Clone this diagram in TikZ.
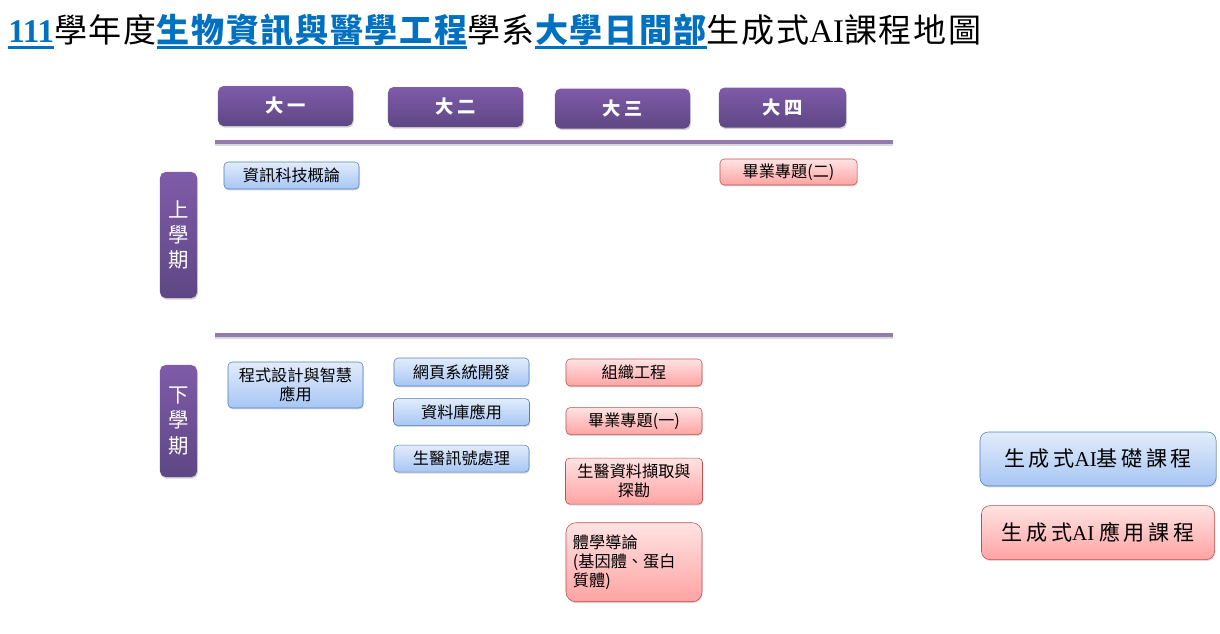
\documentclass[tikz,border=0pt]{standalone}
\usepackage{fontspec}
\setmainfont{Noto Sans CJK TC}
\newfontfamily\latinserif{Liberation Serif}
\usepackage{tikz}
\usetikzlibrary{positioning, shadows}
\definecolor{violet}{HTML}{8064A2}
\definecolor{violethaut}{HTML}{7F5BA9}
\definecolor{violetbas}{HTML}{5E4784}
\definecolor{bleutitre}{HTML}{0070C0}
\definecolor{bleubord}{HTML}{4F81BD}
\definecolor{bleuhaut}{HTML}{E2ECFB}
\definecolor{bleubas}{HTML}{A7C6F4}
\definecolor{rougebord}{HTML}{C0504D}
\definecolor{rougehaut}{HTML}{FFE3E3}
\definecolor{rougebas}{HTML}{FFA3A3}
\newcommand\soulbleu[1]{{\color{bleutitre}\bfseries\setbox0=\hbox{#1}\leavevmode\rlap{\copy0}\rule[-5pt]{\wd0}{2pt}}}
\tikzset{
  annee/.style={rectangle, rounded corners=4pt, draw=none, top color=violethaut,
    bottom color=violetbas, text=white, font=\fontsize{13pt}{15pt}\selectfont\bfseries,
    minimum height=1cm, minimum width=3.375cm, inner sep=1mm,
    drop shadow={shadow xshift=0.6pt, shadow yshift=-1.2pt, opacity=0.35}},
  semestre/.style={rectangle, rounded corners=4pt, draw=none, top color=violethaut,
    bottom color=violetbas, text=white, font=\fontsize{14.5pt}{18pt}\selectfont,
    align=center, minimum width=0.925cm, inner sep=0.5mm,
    drop shadow={shadow xshift=0.6pt, shadow yshift=-1.2pt, opacity=0.35}},
  base/.style={rectangle, rounded corners=3pt, draw=bleubord, top color=bleuhaut,
    bottom color=bleubas, font=\fontsize{11.5pt}{13.5pt}\selectfont, align=center,
    minimum height=0.675cm, minimum width=3.375cm, inner sep=0.8mm,
    drop shadow={shadow xshift=0.5pt, shadow yshift=-1pt, opacity=0.3}},
  applique/.style={base, draw=rougebord, top color=rougehaut, bottom color=rougebas},
  legende/.style={rounded corners=6pt, minimum height=1.35cm,
    font=\fontsize{15pt}{17pt}\selectfont},
  separation/.style={line width=2.2pt, color=violet!85,
    preaction={draw=black!15, line width=2.2pt, transform canvas={yshift=-1.5pt}}}
}
\begin{document}
\begin{tikzpicture}[x=0.025cm, y=-0.025cm]
    \useasboundingbox (0,0) rectangle (1220,633);

    % Titre
    \node[anchor=base west, inner sep=0, font=\fontsize{23.5pt}{26pt}\selectfont\addfontfeature{LetterSpace=5}] (titre) at (8,42)
      {\soulbleu{\latinserif 111}學年度\soulbleu{生物資訊與醫學工程}學系\soulbleu{大學日間部}生成式{\latinserif AI}課程地圖};

    % Annees
    \node[annee] (a1) at (285.5,106) {大\,一};
    \node[annee] (a2) at (455.5,107) {大\,二};
    \node[annee] (a3) at (622.5,108.5) {大\,三};
    \node[annee, minimum width=3.175cm] (a4) at (782.5,107.5) {大\,四};

    % Separations
    \draw[separation] (215,142) -- (893,142);
    \draw[separation] (215,335) -- (893,335);

    % Semestres
    \node[semestre, minimum height=3.15cm] (s1) at (178.5,235) {上\\學\\期};
    \node[semestre, minimum height=2.8cm] (s2) at (178.5,421) {下\\學\\期};

    % Premiere annee
    \node[base] (info) at (291.5,175.5) {資訊科技概論};
    \node[base, minimum height=1.15cm] (prog) at (295.5,385) {程式設計與智慧\\應用};

    % Deuxieme annee
    \node[base, minimum height=0.7cm] (web) at (461.5,372) {網頁系統開發};
    \node[base, minimum width=3.4cm, below=3mm of web] (bdd) {資料庫應用};
    \node[base, below=4.75mm of bdd] (signal) {生醫訊號處理};

    % Troisieme annee
    \node[applique, minimum width=3.4cm] (tissu) at (634,372.5) {組織工程};
    \node[applique, minimum width=3.4cm, below=5.25mm of tissu] (proj1) {畢業專題(一)};
    \node[applique, minimum width=3.425cm, minimum height=1.15cm, below=5.75mm of proj1]
      (fouille) {生醫資料擷取與\\探勘};
    \node[applique, minimum width=3.4cm, minimum height=1.975cm, rounded corners=7pt,
      align=left, text width=3.05cm, below=4.5mm of fouille] (omique)
      {體學導論\\(基因體、蛋白\\質體)};

    % Quatrieme annee
    \node[applique, minimum width=3.425cm, minimum height=0.65cm] (proj2) at (788.5,172) {畢業專題(二)};

    % Legende
    \node[base, legende, minimum width=5.9cm] (lgbase) at (1098,459)
      {生\,成\,式{\latinserif AI}基\,礎\,課\,程};
    \node[applique, legende, minimum width=5.825cm, below=4.75mm of lgbase] (lgappl)
      {生\,成\,式{\latinserif AI} 應\,用\,課\,程};
\end{tikzpicture}
\end{document}
